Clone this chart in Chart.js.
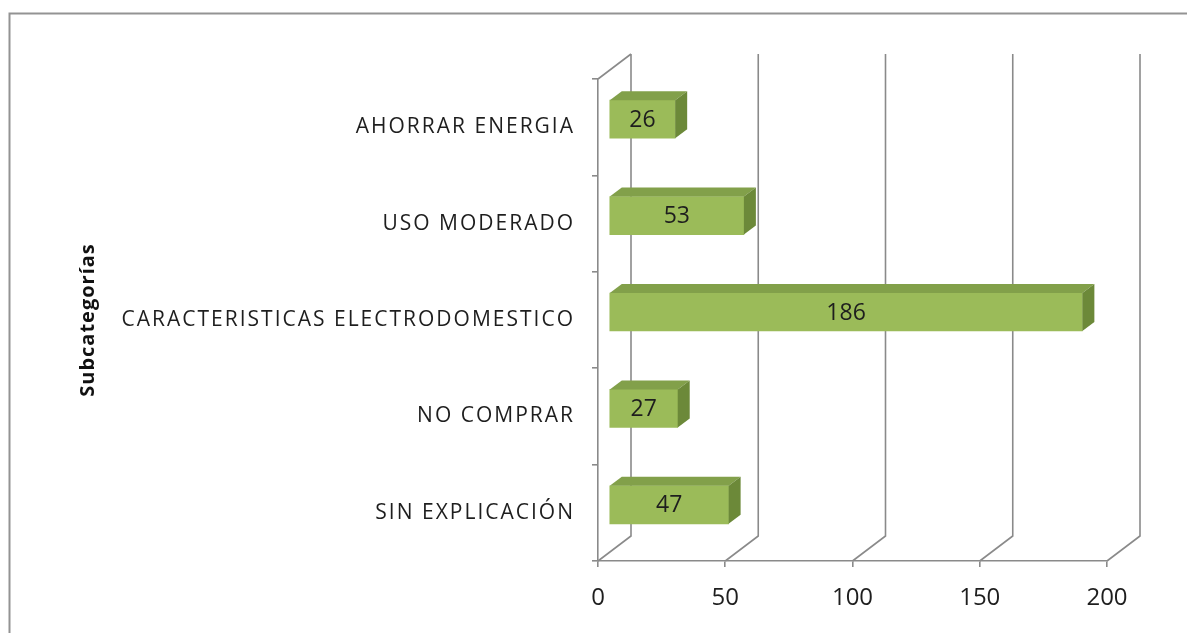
<!DOCTYPE html>
<html>
<head>
<meta charset="utf-8">
<script src="https://cdn.jsdelivr.net/npm/chart.js@4/dist/chart.umd.min.js"></script>
<style>
  html, body { margin: 0; padding: 0; background: #ffffff; }
  #wrap { width: 1187px; height: 633px; position: relative; }
</style>
</head>
<body>
<div id="wrap"><canvas id="chart" width="1187" height="633"></canvas></div>
<script>
// Data
const categories = [
  'AHORRAR ENERGIA',
  'USO MODERADO',
  'CARACTERISTICAS ELECTRODOMESTICO',
  'NO COMPRAR',
  'SIN EXPLICACIÓN'
];
const counts = [26, 53, 186, 27, 47];
const xTickValues = [0, 50, 100, 150, 200];
const axisTitle = 'Subcategorías';

// Styling constants
const FONT = '"Open Sans", "Noto Sans", sans-serif';
const TEXT = '#1e1e1e';
const GRID = '#8a8a8a';
const FRONT = '#9bbb59';
const TOP = '#82a04a';
const SIDE = '#6c8939';
const WALL_DEPTH = { dx: 33, dy: -25 };   // back wall offset from the front plane
const BAR_SHIFT = { dx: 11, dy: -8 };     // bars sit part-way into the depth
const BAR_DEPTH = { dx: 12, dy: -9 };     // depth of each box

// Category axis whose labels and title are drawn with letter spacing
class SpacedCategoryScale extends Chart.CategoryScale {
  drawLabels(area) {
    this.ctx.save();
    this.ctx.letterSpacing = '2px';
    super.drawLabels(area);
    this.ctx.restore();
  }
  drawTitle() {
    this.ctx.save();
    this.ctx.letterSpacing = '1px';
    super.drawTitle();
    this.ctx.restore();
  }
}
SpacedCategoryScale.id = 'spacedCategory';
SpacedCategoryScale.defaults = Chart.CategoryScale.defaults;
Chart.register(SpacedCategoryScale);

// Frame, 3-D walls and box faces
const boxPlugin = {
  id: 'box3d',
  beforeDraw(chart) {
    const { ctx } = chart;
    ctx.save();
    ctx.fillStyle = '#ffffff';
    ctx.fillRect(0, 0, chart.width, chart.height);
    ctx.strokeStyle = '#939393';
    ctx.lineWidth = 2;
    ctx.strokeRect(9.5, 13.5, chart.width + 40, chart.height + 40);
    ctx.restore();
  },
  beforeDatasetsDraw(chart) {
    const { ctx, chartArea: a, scales: { x } } = chart;
    const { dx, dy } = WALL_DEPTH;
    ctx.save();
    ctx.strokeStyle = GRID;
    ctx.lineWidth = 1.6;
    ctx.beginPath();
    x.ticks.forEach(t => {
      const px = x.getPixelForValue(t.value);
      ctx.moveTo(px, a.bottom);
      ctx.lineTo(px + dx, a.bottom + dy);
      ctx.lineTo(px + dx, a.top + dy);
    });
    ctx.moveTo(a.left, a.top);
    ctx.lineTo(a.left + dx, a.top + dy);
    ctx.stroke();
    ctx.restore();

    ctx.save();
    ctx.translate(BAR_SHIFT.dx, BAR_SHIFT.dy);
  },
  afterDatasetsDraw(chart) {
    const { ctx } = chart;
    const meta = chart.getDatasetMeta(0);
    const values = chart.data.datasets[0].data;
    const { dx, dy } = BAR_DEPTH;
    meta.data.forEach((bar, i) => {
      const { x, y, base, height } = bar.getProps(['x', 'y', 'base', 'height'], true);
      const top = y - height / 2;
      const bottom = y + height / 2;
      // top face
      ctx.fillStyle = TOP;
      ctx.beginPath();
      ctx.moveTo(base, top);
      ctx.lineTo(x, top);
      ctx.lineTo(x + dx, top + dy);
      ctx.lineTo(base + dx, top + dy);
      ctx.closePath();
      ctx.fill();
      // end face
      ctx.fillStyle = SIDE;
      ctx.beginPath();
      ctx.moveTo(x, top);
      ctx.lineTo(x + dx, top + dy);
      ctx.lineTo(x + dx, bottom + dy);
      ctx.lineTo(x, bottom);
      ctx.closePath();
      ctx.fill();
      // value label
      ctx.fillStyle = TEXT;
      ctx.font = '23px ' + FONT;
      ctx.textAlign = 'center';
      ctx.textBaseline = 'middle';
      ctx.fillText(String(values[i]), (base + x) / 2, y + 1);
    });
    ctx.restore();
  }
};

new Chart(document.getElementById('chart'), {
  type: 'bar',
  data: {
    labels: categories,
    datasets: [{
      data: counts,
      backgroundColor: FRONT,
      borderWidth: 0,
      barThickness: 38
    }]
  },
  options: {
    indexAxis: 'y',
    responsive: false,
    devicePixelRatio: 1,
    animation: false,
    events: [],
    layout: { padding: { top: 79, right: 80, bottom: 0, left: 0 } },
    plugins: {
      legend: { display: false },
      tooltip: { enabled: false },
      title: { display: false }
    },
    scales: {
      y: {
        type: 'spacedCategory',
        position: 'left',
        offset: true,
        afterFit(scale) { scale.width = 598; },
        grid: {
          offset: true,
          drawOnChartArea: false,
          drawTicks: true,
          tickLength: 6,
          color: GRID,
          lineWidth: 1.6
        },
        border: { display: true, color: GRID, width: 1.6 },
        ticks: {
          color: TEXT,
          padding: 17,
          font: { family: FONT, size: 21 }
        },
        title: {
          display: true,
          text: axisTitle,
          color: '#111111',
          padding: { top: 76, bottom: 0 },
          font: { family: FONT, size: 20, weight: 'bold' }
        }
      },
      x: {
        type: 'linear',
        position: 'bottom',
        min: xTickValues[0],
        max: xTickValues[xTickValues.length - 1],
        afterFit(scale) { scale.height = 72; },
        afterBuildTicks(scale) { scale.ticks = xTickValues.map(v => ({ value: v })); },
        grid: {
          drawOnChartArea: false,
          drawTicks: true,
          tickLength: 6,
          color: GRID,
          lineWidth: 1.6
        },
        border: { display: true, color: GRID, width: 1.6 },
        ticks: {
          color: TEXT,
          padding: 17,
          font: { family: FONT, size: 24 }
        }
      }
    }
  },
  plugins: [boxPlugin]
});
</script>
</body>
</html>
